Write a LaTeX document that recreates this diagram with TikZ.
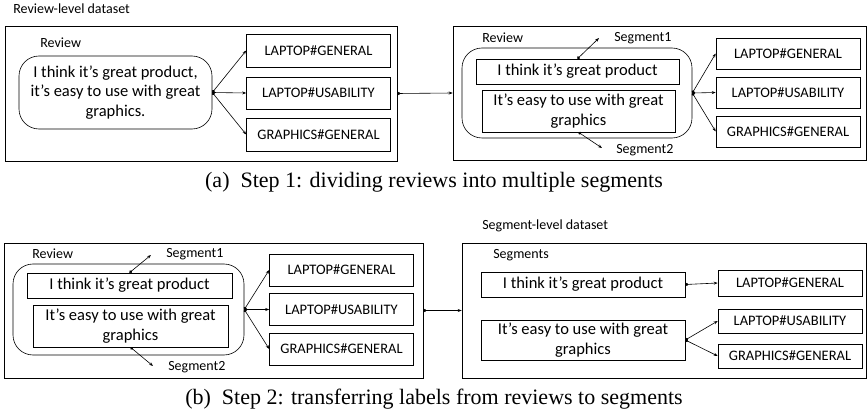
\documentclass[tikz,border=0pt]{standalone}
\usepackage{fontspec}
\setmainfont{Carlito}
\newfontfamily\capfont{Liberation Serif}
\usetikzlibrary{arrows.meta,positioning}

\begin{document}
\begin{tikzpicture}[x=1pt,y=-1pt,>={Stealth[length=4pt,width=3pt]},line width=0.6pt,
    outer box/.style={draw,inner sep=0pt,minimum width=#1},
    review box/.style={draw,rounded corners=20pt,inner sep=0pt,minimum width=#1},
    seg box/.style={draw,inner sep=0pt,minimum width=#1,align=center,font=\fontsize{16.5}{19.5}\selectfont},
    label box/.style={draw,inner sep=0pt,minimum width=144,font=\fontsize{14.5}{16}\selectfont},
    tag/.style={anchor=west,inner sep=0pt,font=\fontsize{14}{16}\selectfont},
    link/.style={{Circle[length=3pt]}->},
    caption/.style={font=\capfont\fontsize{22}{24}\selectfont}]

    \useasboundingbox (0,0) rectangle (868,417);

    % (a) left: review-level dataset
    \node[tag] (title1) at (13,9) {Review-level dataset};
    \node[outer box=392,minimum height=135] (revset) at (201,93.5) {};
    \node[tag] (rev1) at (40,43) {Review};
    \node[review box=193,minimum height=73,align=center,font=\fontsize{16.5}{19.5}\selectfont] (review) at (115.5,92.5)
        {I think it's great product,\\it's easy to use with great\\graphics.};
    \node[label box,minimum height=33] (l1) at (318.5,50.5) {LAPTOP\#GENERAL};
    \node[label box,minimum height=32] (l2) at (318.5,93) {LAPTOP\#USABILITY};
    \node[label box,minimum height=33] (l3) at (318.5,134.5) {GRAPHICS\#GENERAL};
    \foreach \n in {l1,l2,l3}
        \draw[link] (review.east) -- (\n.west);

    % (a) right: review divided into segments
    \node[outer box=413,minimum height=134] (segset) at (659.5,93) {};
    \draw[link] (revset.east) -- (segset.west);
    \node[tag] (rev2) at (482,38) {Review};
    \node[tag] (s1tag) at (614,38) {Segment1};
    \node[review box=230,minimum height=90] (review2) at (577,93) {};
    \node[seg box=203,minimum height=25] (seg1) at (577.5,71.5) {I think it's great product};
    \node[seg box=193,minimum height=42] (seg2) at (578.5,111) {It's easy to use with great\\graphics};
    \node[tag] (s2tag) at (616,150) {Segment2};
    \coordinate (s1end) at (599,38);
    \coordinate (s2end) at (602,148);
    \draw[link] (seg1.north) -- (s1end);
    \draw[link] (seg2.south) -- (s2end);
    \node[label box,minimum height=31] (m1) at (788,53.5) {LAPTOP\#GENERAL};
    \node[label box,minimum height=31] (m2) at (788,92.5) {LAPTOP\#USABILITY};
    \node[label box,minimum height=31] (m3) at (788,131.5) {GRAPHICS\#GENERAL};
    \foreach \n in {m1,m2,m3}
        \draw[link] (review2.east) -- (\n.west);

    \node[caption] (capa) at (434,182) {(a)\ \ Step 1: dividing reviews into multiple segments};

    % (b) left: review with segments
    \node[outer box=419,minimum height=135] (revset3) at (213.5,310.5) {};
    \node[tag] (rev3) at (32,254) {Review};
    \node[tag] (s3tag) at (166,254) {Segment1};
    \node[review box=231,minimum height=91] (review3) at (128.5,309.5) {};
    \node[seg box=205,minimum height=25] (seg3) at (129.5,285.5) {I think it's great product};
    \node[seg box=195,minimum height=42] (seg4) at (130.5,326) {It's easy to use with great\\graphics};
    \node[tag] (s4tag) at (168,367) {Segment2};
    \coordinate (s3end) at (151,255);
    \coordinate (s4end) at (153,366);
    \draw[link] (seg3.north) -- (s3end);
    \draw[link] (seg4.south) -- (s4end);
    \node[label box,minimum height=32] (n1) at (341.5,270) {LAPTOP\#GENERAL};
    \node[label box,minimum height=32] (n2) at (341.5,309.5) {LAPTOP\#USABILITY};
    \node[label box,minimum height=32] (n3) at (341.5,349) {GRAPHICS\#GENERAL};
    \foreach \n in {n1,n2,n3}
        \draw[link] (review3.east) -- (\n.west);

    % (b) right: segment-level dataset
    \node[tag] (title2) at (482,226) {Segment-level dataset};
    \node[outer box=404,minimum height=135] (segset2) at (664,310.5) {};
    \draw[link] (revset3.east) -- (segset2.west);
    \node[tag] (segs) at (493,255) {Segments};
    \node[seg box=204,minimum height=25] (seg5) at (583,284.5) {I think it's great product};
    \node[seg box=204,minimum height=40] (seg6) at (583,340) {It's easy to use with great\\graphics};
    \node[label box,minimum height=26] (o1) at (790,283) {LAPTOP\#GENERAL};
    \node[label box,minimum height=24] (o2) at (790,321) {LAPTOP\#USABILITY};
    \node[label box,minimum height=24] (o3) at (790,356) {GRAPHICS\#GENERAL};
    \draw[link] (seg5.east) -- (o1.west);
    \foreach \n in {o2,o3}
        \draw[link] (seg6.east) -- (\n.west);

    \node[caption] (capb) at (434,399) {(b)\ \ Step 2: transferring labels from reviews to segments};

\end{tikzpicture}
\end{document}
